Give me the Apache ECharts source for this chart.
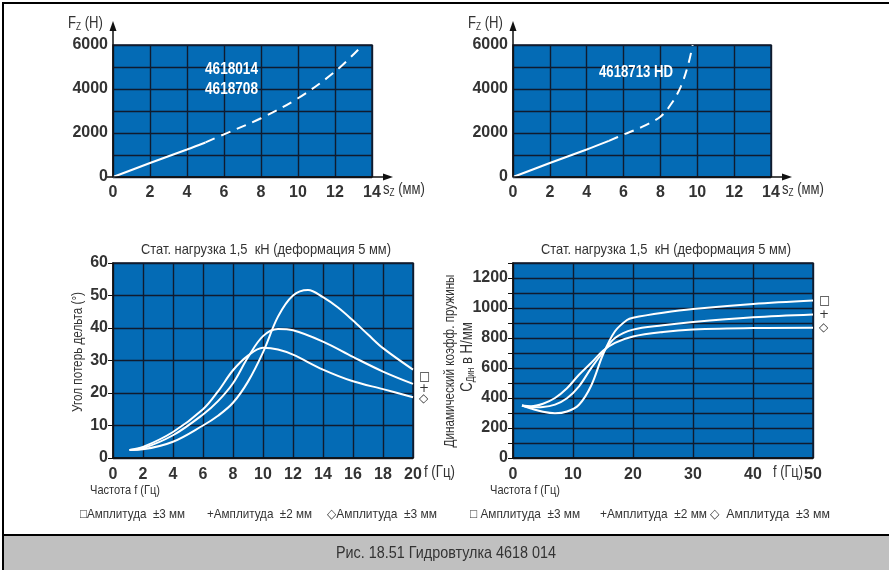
<!DOCTYPE html>
<html><head><meta charset="utf-8">
<script src="https://cdn.jsdelivr.net/npm/echarts@6/dist/echarts.min.js"></script>
<style>html,body{margin:0;padding:0;background:#fff}#c{width:889px;height:570px}</style>
</head><body><div id="c"></div>
<script>
// ---------- DATA ----------
// Top-left: 4618014 / 4618708, s_Z (мм) vs F_Z (H)
const tlSolid  = [[0,0],[2,635],[4,1250],[5,1570]];
const tlDashed = [[5,1570],[6,1940],[8,2670],[10,3580],[12,4790],[13.5,6000]];
// Top-right: 4618713 HD
const trSolid  = [[0,0],[2,635],[4,1250],[5.2,1640]];
const trDashed = [[5.2,1640],[6,1930],[7,2280],[8,2740],[8.6,3340],[9.1,4100],[9.5,5090],[9.75,6000]];
// Bottom-left: loss angle vs frequency
const angleSquare  = [[1.1,2.5],[2,2.7],[4,5],[6,10],[7,13],[8,17],[9,23.5],[10,32.5],[11,43.5],[12,50],[13,51.7],[14,49.5],[15,46.3],[16,42.3],[17,38],[18,33.8],[20,27.2]];
const anglePlus    = [[1.1,2.5],[2,3],[4,7],[6,13.4],[7,17.5],[8,23],[9,31],[10,37.5],[11,39.7],[12,39.3],[14,35.8],[16,31.1],[18,26.6],[20,22.8]];
const angleDiamond = [[1.1,2.5],[2,3.4],[4,8],[6,15],[7,20.5],[8,27],[9,31.5],[10,33.9],[11,33.4],[12,31.8],[14,27.2],[16,23.6],[18,21.2],[20,18.7]];
// Bottom-right: dynamic spring rate vs frequency
const dynSquare  = [[1.5,350],[3,330],[5,308],[7,298],[9,310],[11,355],[13,480],[15,690],[17,845],[19,920],[20,935],[25,968],[30,993],[40,1027],[50,1050]];
const dynPlus    = [[1.5,350],[3,338],[5,340],[7,356],[9,398],[11,478],[13,598],[15,705],[17,800],[20,856],[25,885],[30,907],[40,938],[50,957]];
const dynDiamond = [[1.5,350],[3,345],[5,362],[7,400],[9,465],[11,555],[13,633],[15,715],[17,767],[20,810],[25,840],[30,856],[40,866],[50,868]];
// Texts
const curveNamesTL = ['4618014', '4618708'];
const curveNameTR = '4618713 HD';
const bottomTitle = 'Стат. нагрузка 1,5  кН (деформация 5 мм)';
const markers = ['□', '+', '◇'];
const legendLeft  = ['□Амплитуда  ±3 мм', '+Амплитуда  ±2 мм', '◇Амплитуда  ±3 мм'];
const legendRight = ['□ Амплитуда  ±3 мм', '+Амплитуда  ±2 мм', '◇  Амплитуда  ±3 мм'];
const caption = 'Рис. 18.51 Гидровтулка 4618 014';

// ---------- LAYOUT ----------
const SANS = "'Liberation Sans', Arial, sans-serif";
const BLUE = '#046bb5', GRIDC = '#101b2e', INK = '#333333';
const G = [
  {left:113, top:45,  width:259, height:132},
  {left:513, top:45,  width:258, height:132},
  {left:113, top:263, width:300, height:195},
  {left:513, top:263, width:300, height:195}
];
const lbl = {fontFamily:SANS, fontWeight:'bold', fontSize:16, color:INK};
const split = {show:true, lineStyle:{color:GRIDC, width:1.4}};

const mctx = document.createElement('canvas').getContext('2d');
function fit(text, font, w){ mctx.font = font; return w / mctx.measureText(text).width; }

function xAxis(i, max, interval, margin, showLine){
  return {gridIndex:i, type:'value', min:0, max:max, interval:interval,
    axisLine:{show:showLine, onZero:false, lineStyle:{color:'#111', width:1.5}},
    axisTick:{show:false}, splitLine:split,
    axisLabel:Object.assign({margin:margin, showMaxLabel:true, showMinLabel:true}, lbl)};
}
function yAxis(i, max, interval, labelStep, labelMax, showLine, tick){
  return {gridIndex:i, type:'value', min:0, max:max, interval:interval,
    axisLine:{show:showLine, onZero:false, lineStyle:{color:'#111', width:1.5}},
    axisTick:{show:tick, length:5, lineStyle:{color:'#111'}}, splitLine:split,
    axisLabel:Object.assign({margin:5, showMaxLabel:true,
      formatter:v => (v % labelStep === 0 && v <= labelMax) ? String(v) : ''}, lbl)};
}
function line(xi, data, dashed, endMark, off){
  const s = {type:'line', xAxisIndex:xi, yAxisIndex:xi, data:data, smooth:0.35,
    showSymbol:false, silent:true, animation:false,
    lineStyle:{color:'#fff', width:2, type: dashed ? [10,7] : 'solid'}};
  if (endMark) s.endLabel = {show:true, formatter:endMark, color:INK, fontSize:12,
    fontFamily:'DejaVu Sans', distance:6, offset:off};
  return s;
}

const graphics = [];
// text fitted to a target width (condensed look)
function T(x, y, text, size, w, o){
  const font = (o && o.bold ? 'bold ' : '') + size + 'px ' + SANS;
  const sx = w ? fit(text, font, w) : 0.85;
  graphics.push({type:'text', x:x, y:y, scaleX:sx, rotation:(o && o.rot) || 0, silent:true, z:20,
    style:{text:text, fill:(o && o.fill) || INK, font:font,
      textAlign:(o && o.align) || 'left', textVerticalAlign:'middle'}});
}
const rich = {a:{fontSize:16, fontFamily:SANS, fill:INK, color:INK}, b:{fontSize:10, fontFamily:SANS, fill:INK, color:INK, padding:[7,0,0,0]}};
function R(x, y, text, rot, align){
  graphics.push({type:'text', x:x, y:y, scaleX:0.82, rotation:rot || 0, silent:true, z:20,
    style:{text:text, rich:rich, textAlign:align || 'left', textVerticalAlign:'middle', fill:INK}});
}
// frame + caption band
graphics.push({type:'rect', shape:{x:3, y:535, width:900, height:40}, style:{fill:'#c0c0c0'}, z:0});
graphics.push({type:'rect', shape:{x:3, y:3, width:900, height:580}, style:{fill:'none', stroke:'#000', lineWidth:2}, z:1});
graphics.push({type:'line', shape:{x1:3, y1:535, x2:889, y2:535}, style:{stroke:'#000', lineWidth:2}, z:1});
// top axes with arrows
[0,1].forEach(i => {
  const g = G[i], x0 = g.left, y0 = g.top + g.height;
  graphics.push({type:'line', shape:{x1:x0, y1:y0, x2:x0, y2:27}, style:{stroke:'#111', lineWidth:1.5}, z:10});
  graphics.push({type:'polygon', shape:{points:[[x0,21],[x0-3.5,31],[x0+3.5,31]]}, style:{fill:'#111'}, z:10});
  graphics.push({type:'line', shape:{x1:x0 - (i === 0 ? 6 : 0), y1:y0, x2:x0 + g.width + 15, y2:y0}, style:{stroke:'#111', lineWidth:1.5}, z:10});
  graphics.push({type:'polygon', shape:{points:[[x0 + g.width + 21, y0],[x0 + g.width + 11, y0 - 3.5],[x0 + g.width + 11, y0 + 3.5]]}, style:{fill:'#111'}, z:10});
  R(x0 - 45, 24, '{a|F}{b|Z}{a| (H)}');
  R(x0 + g.width + 11, 190, '{a|s}{b|Z}{a| (мм)}');
});
// curve names in top charts
T(205, 69, curveNamesTL[0], 17, 53, {bold:true, fill:'#fff'});
T(205, 89, curveNamesTL[1], 17, 53, {bold:true, fill:'#fff'});
T(599, 72, curveNameTR, 17, 74, {bold:true, fill:'#fff'});
// bottom chart titles and names
[2,3].forEach(i => {
  const g = G[i];
  T(g.left + g.width/2 + 3, 250, bottomTitle, 15, 250, {align:'center'});
  T(g.left - 23, 490, 'Частота f (Гц)', 13, 70);
});
T(424, 473, 'f (Гц)', 16, 31);
T(773, 473, 'f (Гц)', 16, 30);
T(78, 352, 'Угол потерь дельта (°)', 15, 120, {align:'center', rot:Math.PI/2});
T(450, 361, 'Динамический коэфф. пружины', 15, 173, {align:'center', rot:Math.PI/2});
R(468, 357, '{a|C}{b|Дин}{a| в Н/мм}', Math.PI/2, 'center');
// legends
const lx = [80, 207, 327], lw = [105, 105, 110];
const rx = [470, 600, 710], rw = [110, 107, 120];
legendLeft.forEach((t, k) => T(lx[k], 514, t, 13, lw[k]));
legendRight.forEach((t, k) => T(rx[k], 514, t, 13, rw[k]));
T(446, 553, caption, 17, 220, {align:'center'});

const option = {
  animation:false,
  backgroundColor:'#fff',
  grid: G.map(g => Object.assign({show:true, backgroundColor:BLUE, borderColor:GRIDC, borderWidth:1.4, containLabel:false}, g)),
  xAxis:[
    xAxis(0, 14, 2, 8, false),
    xAxis(1, 14, 2, 8, false),
    xAxis(2, 20, 2, 9, true),
    xAxis(3, 50, 10, 9, true)
  ],
  yAxis:[
    yAxis(0, 6000, 1000, 2000, 6000, false, false),
    yAxis(1, 6000, 1000, 2000, 6000, false, false),
    yAxis(2, 60, 10, 10, 60, true, true),
    yAxis(3, 1300, 100, 200, 1200, true, true)
  ],
  series:[
    line(0, tlSolid, false), line(0, tlDashed, true),
    line(1, trSolid, false), line(1, trDashed, true),
    line(2, angleSquare, false, markers[0], [0, 7]),
    line(2, anglePlus, false, markers[1], [0, 5]),
    line(2, angleDiamond, false, markers[2], [0, 2]),
    line(3, dynSquare, false, markers[0], [0, 0]),
    line(3, dynPlus, false, markers[1], [0, 0]),
    line(3, dynDiamond, false, markers[2], [0, 0])
  ],
  graphic: graphics
};
const chart = echarts.init(document.getElementById('c'));
chart.setOption(option);
</script>
</body></html>
